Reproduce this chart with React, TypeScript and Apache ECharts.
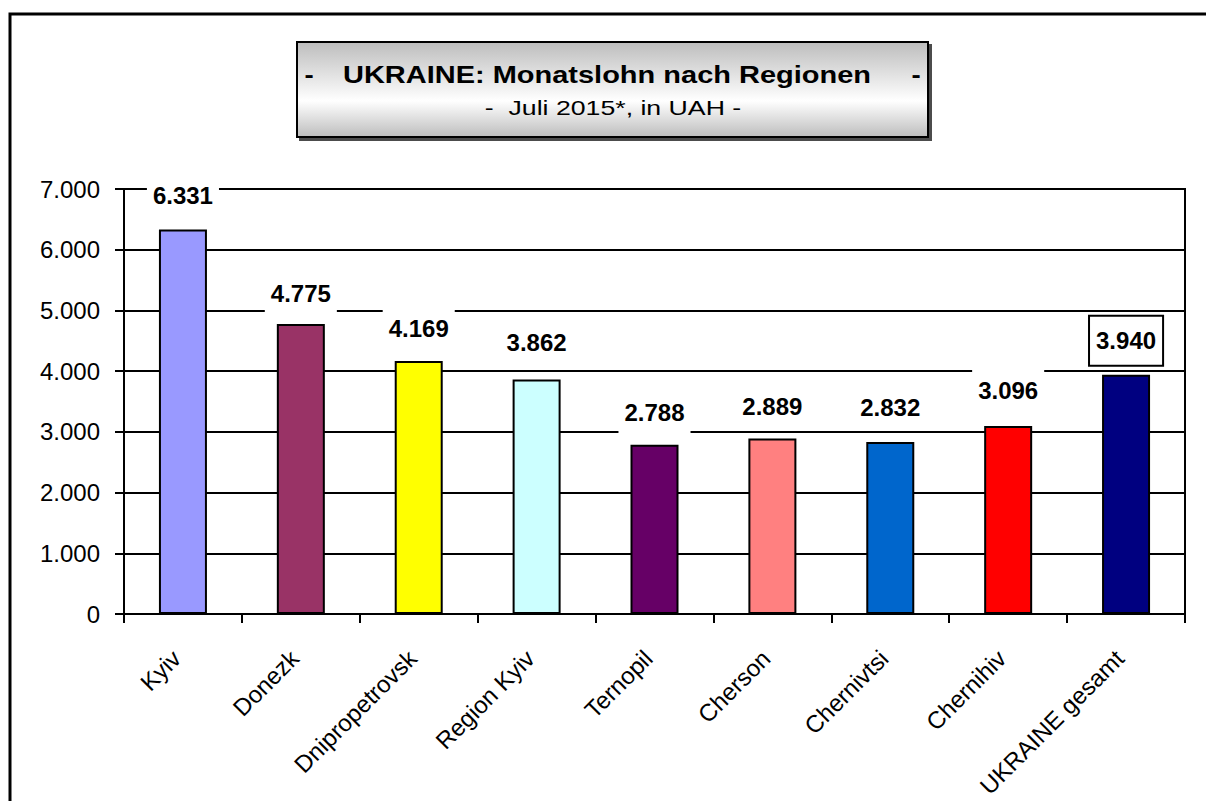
import React, { useEffect, useRef } from 'react';
import * as echarts from 'echarts';

const categories = [
  'Kyiv',
  'Donezk',
  'Dnipropetrovsk',
  'Region Kyiv',
  'Ternopil',
  'Cherson',
  'Chernivtsi',
  'Chernihiv',
  'UKRAINE gesamt',
];
const values = [6331, 4775, 4169, 3862, 2788, 2889, 2832, 3096, 3940];
const barColors = ['#9999FF', '#993366', '#FFFF00', '#CCFFFF', '#660066', '#FF8080', '#0066CC', '#FF0000', '#000080'];
// label gap above each bar (style only)
const labelGaps = [10, 7, 8, 13, 8, 8, 11, 12, 10];
const yMin = 0;
const yMax = 7000;
const yInterval = 1000;
const titleMain = 'UKRAINE: Monatslohn nach Regionen';
const titleSub = '-  Juli 2015*, in UAH -';
const highlightedIndex = 8;

function fmt(v: number): string {
  const s = String(Math.round(v));
  return s.replace(/\B(?=(\d{3})+(?!\d))/g, '.');
}

const FONT = '"Liberation Sans", Arial, Helvetica, sans-serif';

export default function App() {
  const ref = useRef<HTMLDivElement>(null);
  useEffect(() => {
    if (!ref.current) return;
    const chart = echarts.init(ref.current, undefined, { renderer: 'svg' });
    const option: any = {
      animation: false,
      backgroundColor: '#ffffff',
      textStyle: { fontFamily: FONT },
      grid: {
        left: 124,
        right: 21,
        top: 189,
        bottom: 187,
        show: true,
        borderColor: '#000',
        borderWidth: 2,
        backgroundColor: 'transparent',
      },
      xAxis: {
        type: 'category',
        data: categories,
        boundaryGap: true,
        axisLine: { show: true, lineStyle: { color: '#000', width: 2 } },
        axisTick: { show: true, alignWithLabel: false, length: 9, lineStyle: { color: '#000', width: 2 } },
        axisLabel: {
          interval: 0,
          rotate: 45,
          margin: 34,
          fontSize: 24,
          color: '#000',
          fontFamily: FONT,
          padding: [0, 9, 0, 0],
        },
        splitLine: { show: false },
      },
      yAxis: {
        type: 'value',
        min: yMin,
        max: yMax,
        interval: yInterval,
        axisLine: { show: true, lineStyle: { color: '#000', width: 2 } },
        axisTick: { show: true, length: 9, lineStyle: { color: '#000', width: 2 } },
        axisLabel: { fontSize: 24, color: '#000', margin: 24, fontFamily: FONT, formatter: (v: number) => fmt(v) },
        splitLine: { show: true, lineStyle: { color: '#000', width: 2 } },
      },
      series: [
        {
          type: 'bar',
          barWidth: 48,
          data: values.map((v, i) => ({
            value: v,
            itemStyle: { color: barColors[i] },
            label:
              i === highlightedIndex
                ? { distance: labelGaps[i], borderColor: '#000', borderWidth: 2 }
                : { distance: labelGaps[i] },
          })),
          itemStyle: { borderColor: '#000', borderWidth: 2 },
          label: {
            show: true,
            position: 'top',
            distance: 8,
            fontSize: 24,
            fontWeight: 'bold',
            fontFamily: FONT,
            color: '#000',
            backgroundColor: '#fff',
            padding: [14, 6],
            lineHeight: 20,
            formatter: (p: any) => fmt(p.value),
          },
        },
      ],
      graphic: [
        {
          type: 'rect',
          z: -10,
          shape: { x: 10, y: 14, width: 1220, height: 820 },
          style: { fill: 'none', stroke: '#000', lineWidth: 3 },
        },
        {
          type: 'rect',
          z: 10,
          shape: { x: 297, y: 42, width: 631, height: 95 },
          style: {
            fill: new echarts.graphic.LinearGradient(0, 0, 0, 1, [
              { offset: 0, color: '#bdbdbd' },
              { offset: 0.62, color: '#ffffff' },
              { offset: 1, color: '#bdbdbd' },
            ]),
            stroke: '#000',
            lineWidth: 2,
            shadowColor: 'rgba(0,0,0,0.7)',
            shadowOffsetX: 3,
            shadowOffsetY: 3,
            shadowBlur: 0,
          },
        },
        {
          type: 'text',
          z: 11,
          x: 309,
          y: 75,
          scaleX: 1.2,
          style: { text: '-', fontSize: 23, fontWeight: 'bold', fontFamily: FONT, fill: '#000', align: 'center', verticalAlign: 'middle' },
        },
        {
          type: 'text',
          z: 11,
          x: 607,
          y: 75,
          scaleX: 1.26,
          style: { text: titleMain, fontSize: 23, fontWeight: 'bold', fontFamily: FONT, fill: '#000', align: 'center', verticalAlign: 'middle' },
        },
        {
          type: 'text',
          z: 11,
          x: 916,
          y: 75,
          scaleX: 1.2,
          style: { text: '-', fontSize: 23, fontWeight: 'bold', fontFamily: FONT, fill: '#000', align: 'center', verticalAlign: 'middle' },
        },
        {
          type: 'text',
          z: 11,
          x: 613,
          y: 108,
          scaleX: 1.27,
          style: { text: titleSub, fontSize: 21, fontFamily: FONT, fill: '#000', align: 'center', verticalAlign: 'middle' },
        },
      ],
    };
    chart.setOption(option);
    return () => chart.dispose();
  }, []);
  return (
    <div
      ref={ref}
      style={{ position: 'fixed', left: 0, top: 0, width: 1206, height: 801, background: '#fff' }}
    />
  );
}
